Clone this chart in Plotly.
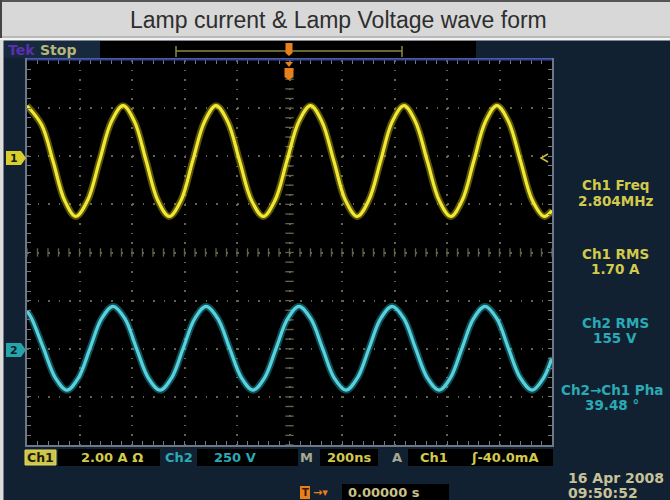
import plotly.graph_objects as go

# ---- data ----
# Ch1 (lamp current, A): trace points, time in ns (200 ns/div, trigger at 0)
ch1_t_ns = [-1000, -944, -901, -857, -814, -769, -724, -679, -634, -590, -546, -502,
            -458, -413, -369, -324, -280, -235, -190, -145, -100, -55, -10, 35,
            80, 124, 169, 213, 258, 302, 347, 391, 436, 480, 525, 570,
            614, 658, 702, 746, 790, 835, 880, 925, 970, 1000]
ch1_amp = [2.1, 1.3, -0.2, -1.83, -2.5, -1.83, -0.2, 1.43, 2.1, 1.43, -0.2, -1.83,
           -2.5, -1.83, -0.2, 1.43, 2.1, 1.43, -0.2, -1.83, -2.5, -1.83, -0.2, 1.43,
           2.1, 1.43, -0.2, -1.83, -2.5, -1.83, -0.2, 1.43, 2.1, 1.43, -0.2, -1.83,
           -2.5, -1.83, -0.2, 1.43, 2.1, 1.43, -0.2, -1.83, -2.5, -2.25]
# Ch2 (lamp voltage, V)
ch2_t_ns = [-1000, -982, -937, -892, -848, -804, -760, -716, -672, -627, -583, -538,
            -493, -449, -405, -361, -318, -273, -228, -183, -139, -95, -51, -7,
            36, 81, 126, 170, 215, 259, 303, 347, 391, 436, 480, 525,
            570, 613, 657, 701, 745, 790, 834, 879, 924, 968, 1000]
ch2_volt = [196, 156, 2, -151, -215, -151, 2, 156, 220, 156, 2, -151,
            -215, -151, 2, 156, 220, 156, 2, -151, -215, -151, 2, 156,
            220, 156, 2, -151, -215, -151, 2, 156, 220, 156, 2, -151,
            -215, -151, 2, 156, 220, 156, 2, -151, -215, -151, -47]

ch1_scale = 2.0      # A/div
ch1_pos_div = 2.0
ch2_scale = 250.0    # V/div
ch2_pos_div = -2.0

title_text = "Lamp current & Lamp Voltage wave form"
meas_labels = ["Ch1 Freq", "Ch1 RMS", "Ch2 RMS"]
meas_values = ["2.804MHz", "1.70 A", "155 V"]
phase_label = "Ch2→Ch1 Pha"
phase_value = "39.48 °"

# ---- geometry helpers (pixel -> paper) ----
L, R, T, B = 27, 552, 60, 445
W, H = R - L, B - T


def X(px):
    return (px - L) / W


def Y(py):
    return (B - py) / H


YEL = "#d2ca4c"
CYN = "#2aaab6"
NAVY = "#122131"
GRID = "#64644e"

ch1_div = [a / ch1_scale + ch1_pos_div for a in ch1_amp]
ch2_div = [v / ch2_scale + ch2_pos_div for v in ch2_volt]

fig = go.Figure()

# center-line tick marks (graticule decoration)
hx = [-1000 + 40 * i for i in range(51)]
vy = [-4 + 0.2 * i for i in range(41)]
fig.add_trace(go.Scatter(x=hx, y=[0] * len(hx), mode="markers", hoverinfo="skip",
                         marker=dict(symbol="line-ns-open", size=6, color=GRID,
                                     line=dict(color=GRID, width=1.3))))
fig.add_trace(go.Scatter(x=[0] * len(vy), y=vy, mode="markers", hoverinfo="skip",
                         marker=dict(symbol="line-ew-open", size=6, color=GRID,
                                     line=dict(color=GRID, width=1.3))))

# traces (glow + core)
for t, y, glow, core in [(ch1_t_ns, ch1_div, "rgba(200,190,20,0.45)", "#f2e834"),
                         (ch2_t_ns, ch2_div, "rgba(40,170,185,0.45)", "#56d2de")]:
    fig.add_trace(go.Scatter(x=t, y=y, mode="lines", hoverinfo="skip",
                             line=dict(color=glow, width=7, shape="spline", smoothing=1)))
    fig.add_trace(go.Scatter(x=t, y=y, mode="lines", hoverinfo="skip",
                             line=dict(color=core, width=3.2, shape="spline", smoothing=1)))

shapes = []
# title band
shapes.append(dict(type="rect", xref="paper", yref="paper", x0=X(0), x1=X(670), y0=Y(38), y1=Y(0),
                   fillcolor="#d8d8d8", line=dict(width=0), layer="below"))
shapes.append(dict(type="line", xref="paper", yref="paper", x0=X(0), x1=X(670), y0=Y(1), y1=Y(1),
                   line=dict(color="#555555", width=2)))
shapes.append(dict(type="line", xref="paper", yref="paper", x0=X(0), x1=X(670), y0=Y(37), y1=Y(37),
                   line=dict(color="#9a9a9a", width=1)))
shapes.append(dict(type="rect", xref="paper", yref="paper", x0=X(0), x1=X(670), y0=Y(40.5), y1=Y(38),
                   fillcolor="#f2f2f2", line=dict(width=0)))
shapes.append(dict(type="line", xref="paper", yref="paper", x0=X(1), x1=X(1), y0=Y(38), y1=Y(0),
                   line=dict(color="#444444", width=2)))
shapes.append(dict(type="rect", xref="paper", yref="paper", x0=X(0), x1=X(3.5), y0=Y(500), y1=Y(40),
                   fillcolor="#dcdcdc", line=dict(width=0)))
# status bar
shapes.append(dict(type="rect", xref="paper", yref="paper", x0=X(100), x1=X(476), y0=Y(58), y1=Y(41),
                   fillcolor="#000000", line=dict(width=0)))
shapes.append(dict(type="rect", xref="paper", yref="paper", x0=X(4), x1=X(100), y0=Y(58), y1=Y(41),
                   fillcolor="#17293d", line=dict(width=0)))
shapes.append(dict(type="line", xref="paper", yref="paper", x0=X(176), x1=X(402), y0=Y(51), y1=Y(51),
                   line=dict(color="#8c8a3c", width=1.5)))
for bx in (176, 402):
    shapes.append(dict(type="line", xref="paper", yref="paper", x0=X(bx), x1=X(bx), y0=Y(46), y1=Y(57),
                       line=dict(color="#8c8a3c", width=1.5)))
# orange trigger position markers
shapes.append(dict(type="path", xref="paper", yref="paper",
                   path=f"M {X(285.5)},{Y(43)} L {X(292.5)},{Y(43)} L {X(292.5)},{Y(53)} "
                        f"L {X(289)},{Y(56)} L {X(285.5)},{Y(53)} Z",
                   fillcolor="#e8801c", line=dict(width=0)))
shapes.append(dict(type="path", xref="paper", yref="paper",
                   path=f"M {X(285)},{Y(62)} L {X(293)},{Y(62)} L {X(289)},{Y(67)} Z",
                   fillcolor="#e8801c", line=dict(width=0)))
shapes.append(dict(type="path", xref="paper", yref="paper",
                   path=f"M {X(284.5)},{Y(68)} L {X(293.5)},{Y(68)} L {X(293.5)},{Y(77)} "
                        f"L {X(289)},{Y(80)} L {X(284.5)},{Y(77)} Z",
                   fillcolor="#e8801c", line=dict(width=0)))
# top blue edge of graticule
shapes.append(dict(type="line", xref="paper", yref="paper", x0=X(27), x1=X(552), y0=Y(59.5), y1=Y(59.5),
                   line=dict(color="#3444a6", width=2)))
# channel markers
for py, col in [(158, "#d8ce2c"), (350, "#27a3ab")]:
    shapes.append(dict(type="path", xref="paper", yref="paper",
                       path=f"M {X(6)},{Y(py - 7)} L {X(21)},{Y(py - 7)} L {X(26)},{Y(py)} "
                            f"L {X(21)},{Y(py + 7)} L {X(6)},{Y(py + 7)} Z",
                       fillcolor=col, line=dict(width=0)))
# trigger level arrow at right
shapes.append(dict(type="path", xref="paper", yref="paper",
                   path=f"M {X(548)},{Y(154)} L {X(541)},{Y(158)} L {X(548)},{Y(162)}",
                   line=dict(color="#c8c040", width=1.5)))
# bottom readout boxes
shapes.append(dict(type="rect", xref="paper", yref="paper", x0=X(25), x1=X(56), y0=Y(465), y1=Y(450),
                   fillcolor="#cfc64a", line=dict(color="#e0d860", width=1)))
for x0, x1 in [(58, 160), (197, 298), (320, 378), (408, 553)]:
    shapes.append(dict(type="rect", xref="paper", yref="paper", x0=X(x0), x1=X(x1), y0=Y(466), y1=Y(449),
                       fillcolor="#000000", line=dict(width=0)))
shapes.append(dict(type="rect", xref="paper", yref="paper", x0=X(342), x1=X(449), y0=Y(500), y1=Y(484),
                   fillcolor="#000000", line=dict(width=0)))
shapes.append(dict(type="rect", xref="paper", yref="paper", x0=X(300), x1=X(310), y0=Y(499), y1=Y(486),
                   fillcolor="#e8801c", line=dict(width=0)))

ann = []


def text(px, py, s, color, size=13, anchor="center", family="DejaVu Sans", bold=True):
    ann.append(dict(xref="paper", yref="paper", x=X(px), y=Y(py), text=(f"<b>{s}</b>" if bold else s),
                    showarrow=False, xanchor=anchor, yanchor="middle",
                    font=dict(color=color, size=size, family=family)))


text(338, 20, title_text, "#2e2e2e", size=23, family="Liberation Sans", bold=False)
text(6, 50, "Tek", "#5b2fae", size=14, anchor="left")
text(38, 50, "Stop", "#b6b67a", size=14, anchor="left")
text(14, 158.5, "1", "#1a1a10", size=11)
text(14, 350.5, "2", "#0c1e28", size=11)

meas_y = [(185, 201), (254, 269), (323, 338)]
meas_col = [YEL, YEL, CYN]
for (y1, y2), lab, val, c in zip(meas_y, meas_labels, meas_values, meas_col):
    text(615, y1, lab, c, size=13.5)
    text(615, y2, val, c, size=13.5)
text(559, 390, phase_label, CYN, size=13.5, anchor="left")
text(612, 405, phase_value, CYN, size=13.5)

text(40.5, 457.5, "Ch1", "#1c1c0c", size=12.5)
text(112, 457.5, "2.00 A Ω", YEL, size=13)
text(179, 457.5, "Ch2", CYN, size=13)
text(235, 457.5, "250 V", CYN, size=13)
text(306, 457.5, "M", "#a8a890", size=13)
text(349, 457.5, "200ns", YEL, size=13)
text(397, 457.5, "A", "#a8a890", size=13)
text(434, 457.5, "Ch1", YEL, size=13)
text(504, 457.5, "ʃ-40.0mA", YEL, size=13)
text(305, 492.5, "T", "#3a1a00", size=10)
text(311, 492, "→▾", "#e8801c", size=11, anchor="left")
text(346, 492.5, "0.00000 s", "#c8c28a", size=13, anchor="left")
text(566, 478, "16 Apr 2008", "#c6c29a", size=14, anchor="left")
text(566, 493, "09:50:52", "#c6c29a", size=14, anchor="left")

fig.update_layout(
    width=670, height=500,
    margin=dict(l=L, r=670 - R, t=T, b=500 - B, pad=0),
    paper_bgcolor=NAVY, plot_bgcolor="#000000",
    showlegend=False,
    shapes=shapes, annotations=ann,
    xaxis=dict(range=[-1000, 1000], dtick=200, tick0=0, showgrid=True, gridcolor=GRID,
               gridwidth=1.5, griddash="1.5px,8.1px", zeroline=False, showticklabels=False,
               showline=True, linecolor="#6c7886", linewidth=1.5, mirror="ticks",
               ticks="inside", ticklen=4, tickcolor="#6c7886",
               minor=dict(dtick=40, ticks="inside", ticklen=4, tickcolor="#6c7886", showgrid=False),
               fixedrange=True),
    yaxis=dict(range=[-4, 4], dtick=1, tick0=0, showgrid=True, gridcolor=GRID,
               gridwidth=1.5, griddash="1.5px,9px", zeroline=False, showticklabels=False,
               showline=True, linecolor="#6c7886", linewidth=1.5, mirror="ticks",
               ticks="inside", ticklen=4, tickcolor="#6c7886",
               minor=dict(dtick=0.2, ticks="inside", ticklen=4, tickcolor="#6c7886", showgrid=False),
               fixedrange=True),
)

fig.write_html("out.html", config={"displayModeBar": False},
               post_script="document.body.style.margin='0';")
